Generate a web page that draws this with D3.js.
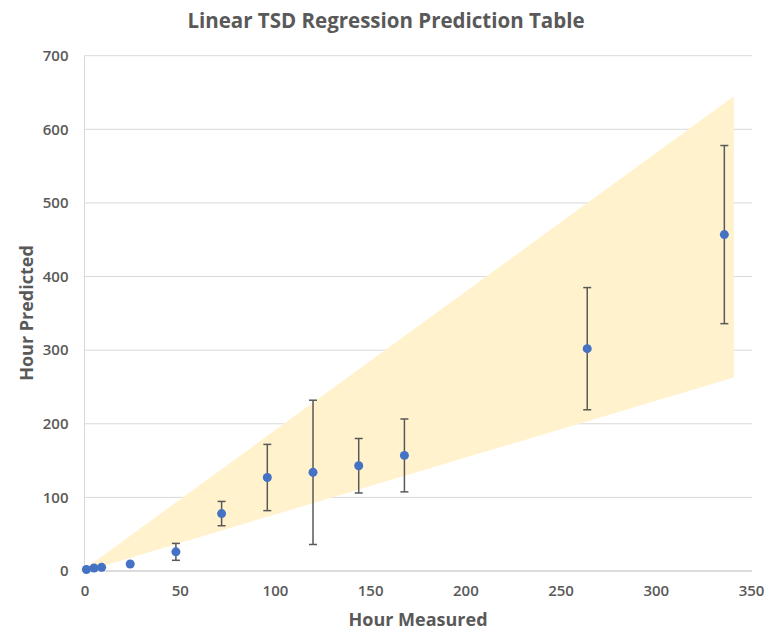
<!DOCTYPE html>
<html>
<head>
<meta charset="utf-8">
<script src="https://cdn.jsdelivr.net/npm/d3@7"></script>
<style>
  body { margin: 0; background: #fff; }
  text { font-family: "Open Sans", "Noto Sans", sans-serif; }
</style>
</head>
<body>
<script>
(function() {

// measured hour vs predicted hour, with error half-widths
var hours = [1, 5, 9, 24, 48, 72, 96, 120, 144, 168, 264, 336];
var predicted = [2, 4, 5, 9.5, 26, 78, 127, 134, 143, 157, 302, 457];
var errors = [0, 0, 0, 0, 11.5, 16.5, 45, 98, 37, 49.5, 83, 121];

// shaded prediction band
var bandX = [-3, 341];
var bandLow = [-3, 263];
var bandHigh = [-3, 645];

var xTicks = [0, 50, 100, 150, 200, 250, 300, 350];
var yTicks = [0, 100, 200, 300, 400, 500, 600, 700];

var width = 768, height = 630;
var grey = '#595959';

var svg = d3.select('body').
  append('svg').
  attr('width', width).
  attr('height', height);

var x = d3.scaleLinear().domain([0, 350]).range([84.5, 751]);
var y = d3.scaleLinear().domain([0, 700]).range([571, 55.7]);

// gridlines
svg.append('g').
  selectAll('line').
  data(yTicks.slice(1)).
  enter().append('line').
  attr('x1', x(0)).
  attr('x2', 752).
  attr('y1', function(d) { return y(d); }).
  attr('y2', function(d) { return y(d); }).
  attr('stroke', '#d9d9d9').
  attr('stroke-width', 1);

// vertical axis line
svg.append('line').
  attr('x1', x(0)).attr('x2', x(0)).
  attr('y1', y(700)).attr('y2', y(0)).
  attr('stroke', '#d9d9d9').
  attr('stroke-width', 1);

// band
var band = bandX.map(function(d, i) { return { x: d, lo: bandLow[i], hi: bandHigh[i] }; });
svg.append('path').
  datum(band).
  attr('fill', '#fff2cc').
  attr('d', d3.area().
    x(function(d) { return x(d.x); }).
    y0(function(d) { return y(d.lo); }).
    y1(function(d) { return y(d.hi); }));

// bottom axis line
svg.append('line').
  attr('x1', x(0)).attr('x2', 752).
  attr('y1', y(0)).attr('y2', y(0)).
  attr('stroke', '#d0d0d0').
  attr('stroke-width', 1.5);

// tick labels
var xAxis = svg.append('g').
  attr('transform', 'translate(0,' + y(0) + ')').
  call(d3.axisBottom(x).tickValues(xTicks).tickSize(0).tickPadding(14));
var yAxis = svg.append('g').
  attr('transform', 'translate(' + x(0) + ',0)').
  call(d3.axisLeft(y).tickValues(yTicks).tickSize(0).tickPadding(16));
[xAxis, yAxis].forEach(function(a) {
  a.select('.domain').remove();
  a.selectAll('text').
    attr('fill', grey).
    style('font-size', '15px').
    style('font-weight', '600').
    style('font-family', '"Open Sans", sans-serif');
});

var pts = hours.map(function(h, i) { return { h: h, p: predicted[i], e: errors[i] }; });
var withErr = pts.filter(function(d) { return d.e > 0; });

// error bars
var eb = svg.append('g').
  attr('stroke', grey).
  attr('stroke-width', 1.5);
eb.selectAll('.stem').
  data(withErr).
  enter().append('line').
  attr('x1', function(d) { return x(d.h); }).
  attr('x2', function(d) { return x(d.h); }).
  attr('y1', function(d) { return y(d.p + d.e); }).
  attr('y2', function(d) { return y(d.p - d.e); });
[1, -1].forEach(function(s) {
  eb.selectAll('.cap' + s).
    data(withErr).
    enter().append('line').
    attr('x1', function(d) { return x(d.h) - 4; }).
    attr('x2', function(d) { return x(d.h) + 4; }).
    attr('y1', function(d) { return y(d.p + s * d.e); }).
    attr('y2', function(d) { return y(d.p + s * d.e); });
});

// points
svg.append('g').
  selectAll('circle').
  data(pts).
  enter().append('circle').
  attr('cx', function(d) { return x(d.h); }).
  attr('cy', function(d) { return y(d.p); }).
  attr('r', 4.5).
  attr('fill', '#4472c4');

// titles
svg.append('text').
  attr('x', 386).attr('y', 28).
  attr('text-anchor', 'middle').
  attr('fill', grey).
  style('font-size', '20.5px').
  style('font-weight', 'bold').
  text('Linear TSD Regression Prediction Table');

svg.append('text').
  attr('x', 418).attr('y', 626).
  attr('text-anchor', 'middle').
  attr('fill', grey).
  style('font-size', '18px').
  style('font-weight', 'bold').
  text('Hour Measured');

svg.append('text').
  attr('transform', 'translate(33,313) rotate(-90)').
  attr('text-anchor', 'middle').
  attr('fill', grey).
  style('font-size', '18px').
  style('font-weight', 'bold').
  text('Hour Predicted');

})();
</script>
</body>
</html>
